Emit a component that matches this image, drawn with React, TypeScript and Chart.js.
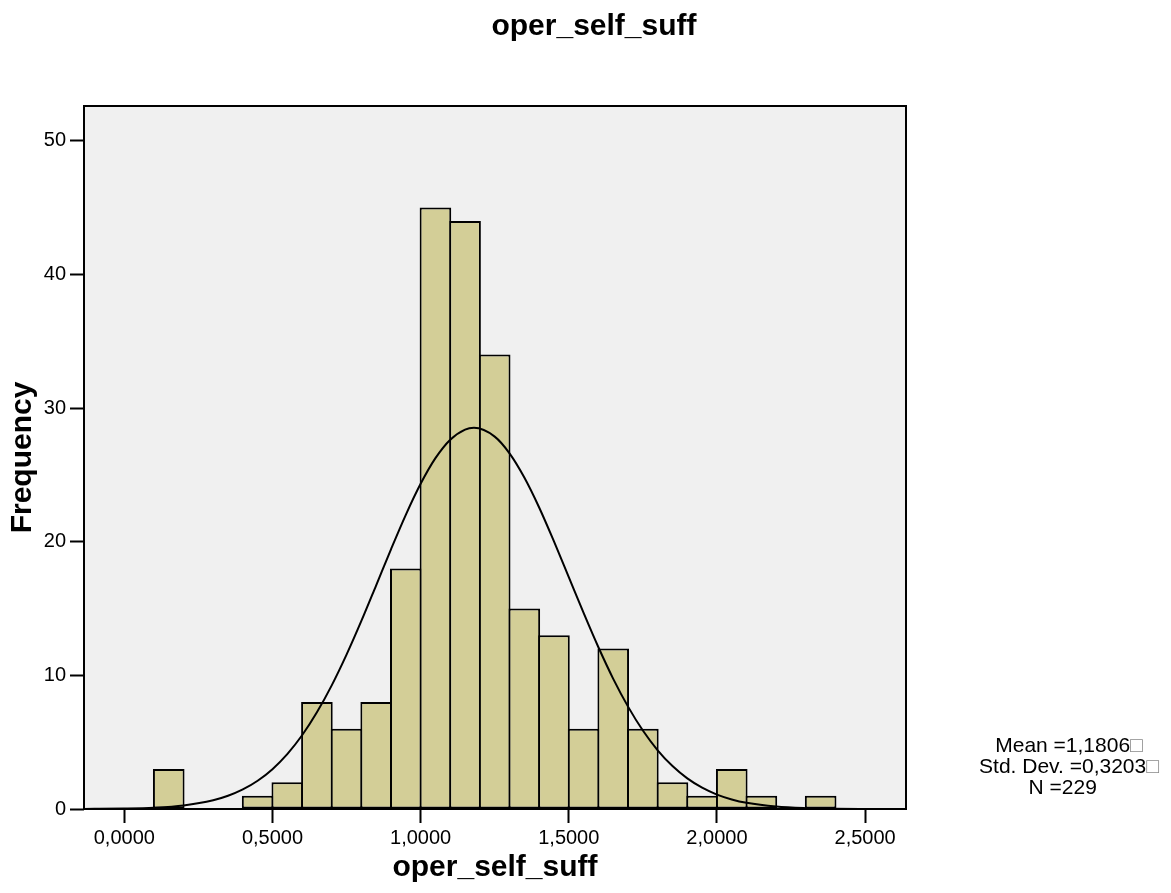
import React, { useEffect, useRef } from "react";
import { Chart, registerables } from "chart.js";

Chart.register(...registerables);

// ---- data ----
const chartTitle = "oper_self_suff";
const xAxisTitle = "oper_self_suff";
const yAxisTitle = "Frequency";

const binWidth = 0.1;
const binStarts = [0.1, 0.2, 0.3, 0.4, 0.5, 0.6, 0.7, 0.8, 0.9, 1.0, 1.1, 1.2, 1.3, 1.4, 1.5, 1.6, 1.7, 1.8, 1.9, 2.0, 2.1, 2.2, 2.3];
const binCounts = [3, 0, 0, 1, 2, 8, 6, 8, 18, 45, 44, 34, 15, 13, 6, 12, 6, 2, 1, 3, 1, 0, 1];

// normal curve
const curveX = [-0.2, -0.1, 0.0, 0.1, 0.2, 0.3, 0.35, 0.4, 0.45, 0.5, 0.55, 0.6, 0.65, 0.7, 0.75, 0.8, 0.85, 0.9, 0.95, 1.0, 1.05, 1.1, 1.15, 1.18, 1.25, 1.3, 1.35, 1.4, 1.45, 1.5, 1.55, 1.6, 1.65, 1.7, 1.75, 1.8, 1.85, 1.9, 1.95, 2.0, 2.05, 2.1, 2.2, 2.3, 2.4, 2.5, 2.6, 2.7];
const curveY = [0.003, 0.01, 0.032, 0.096, 0.263, 0.651, 0.988, 1.463, 2.115, 2.983, 4.107, 5.515, 7.233, 9.25, 11.55, 14.07, 16.74, 19.43, 22.01, 24.33, 26.25, 27.63, 28.39, 28.52, 27.86, 26.61, 24.8, 22.56, 20.02, 17.35, 14.67, 12.1, 9.74, 7.66, 5.87, 4.39, 3.21, 2.29, 1.593, 1.08, 0.717, 0.463, 0.18, 0.063, 0.02, 0.006, 0.0015, 0.0004];

const xTickValues = [0, 0.5, 1.0, 1.5, 2.0, 2.5];
const yTickValues = [0, 10, 20, 30, 40, 50];
const xMin = -0.136;
const xMax = 2.638;
const yMin = 0;
const yMax = 52.6;

const statsLines = ["Mean =1,1806", "Std. Dev. =0,3203", "N =229"];
const statsHasBox = [true, true, false];

const FONT = "'Liberation Sans', Arial, Helvetica, sans-serif";

const framePlugin = {
  id: "spssFrame",
  beforeDraw(chart: any) {
    const { ctx, chartArea: a } = chart;
    ctx.save();
    ctx.fillStyle = "#F0F0F0";
    ctx.fillRect(a.left, a.top, a.right - a.left, a.bottom - a.top);
    ctx.restore();
  },
  afterDatasetsDraw(chart: any) {
    const { ctx, chartArea: a } = chart;
    ctx.save();
    ctx.strokeStyle = "#000";
    ctx.lineWidth = 2;
    ctx.strokeRect(a.left, a.top, a.right - a.left, a.bottom - a.top);
    ctx.restore();
  },
  afterDraw(chart: any) {
    const { ctx } = chart;
    ctx.save();
    ctx.fillStyle = "#000";
    ctx.font = `bold 30px ${FONT}`;
    ctx.textAlign = "center";
    ctx.textBaseline = "alphabetic";
    ctx.fillText(chartTitle, 594, 35);

    ctx.font = `21px ${FONT}`;
    ctx.textAlign = "left";
    const boxW = ctx.measureText("\u25A1").width;
    statsLines.forEach((line, i) => {
      const w = ctx.measureText(line).width;
      const total = w + boxW;
      const start = 1069 - total / 2;
      const y = 752 + i * 21;
      ctx.fillStyle = "#000";
      ctx.fillText(line, start, y);
      if (statsHasBox[i]) {
        ctx.fillStyle = "#8a8a8a";
        ctx.fillText("\u25A1", start + w, y);
      }
    });
    ctx.restore();
  },
};

export default function App() {
  const ref = useRef<HTMLCanvasElement>(null);

  useEffect(() => {
    const canvas = ref.current;
    if (!canvas) return;
    const barData = binStarts
      .map((s, i) => ({ x: s + binWidth / 2, y: binCounts[i] }))
      .filter((d) => d.y > 0);
    const lineData = curveX.map((x, i) => ({ x, y: curveY[i] }));

    const chart = new Chart(canvas, {
      type: "bar",
      data: {
        datasets: [
          {
            type: "line",
            data: lineData,
            borderColor: "#000",
            borderWidth: 2,
            pointRadius: 0,
            fill: false,
            cubicInterpolationMode: "monotone",
            order: 1,
          } as any,
          {
            type: "bar",
            data: barData,
            backgroundColor: "#D3CE97",
            borderColor: "#000",
            borderWidth: 2,
            borderSkipped: false,
            barPercentage: 1.067,
            categoryPercentage: 1,
            grouped: false,
            order: 2,
          } as any,
        ],
      },
      options: {
        responsive: false,
        animation: false,
        devicePixelRatio: 1,
        layout: { padding: { top: 106, right: 265, left: 0, bottom: 0 } },
        plugins: {
          legend: { display: false },
          tooltip: { enabled: false },
          title: { display: false },
        },
        scales: {
          x: {
            type: "linear",
            min: xMin,
            max: xMax,
            offset: false,
            afterFit: (s: any) => {
              s.height = 84;
            },
            afterBuildTicks: (s: any) => {
              s.ticks = xTickValues.map((v) => ({ value: v }));
            },
            border: { display: false },
            grid: {
              offset: false,
              drawOnChartArea: false,
              drawTicks: true,
              tickLength: 14,
              tickWidth: 2,
              tickColor: "#000",
              color: "#000",
            },
            ticks: {
              color: "#000",
              font: { family: FONT, size: 20 },
              padding: 3,
              maxRotation: 0,
              autoSkip: false,
              callback: (v: any) => Number(v).toFixed(4).replace(".", ","),
            },
            title: {
              display: true,
              text: xAxisTitle,
              color: "#000",
              font: { family: FONT, size: 30, weight: "bold" },
              padding: { top: 0, bottom: 7 },
            },
          },
          y: {
            type: "linear",
            min: yMin,
            max: yMax,
            afterFit: (s: any) => {
              s.width = 84;
            },
            afterBuildTicks: (s: any) => {
              s.ticks = yTickValues.map((v) => ({ value: v }));
            },
            border: { display: false },
            grid: {
              drawOnChartArea: false,
              drawTicks: true,
              tickLength: 14,
              tickWidth: 2,
              tickColor: "#000",
              color: "#000",
            },
            ticks: {
              color: "#000",
              font: { family: FONT, size: 20 },
              padding: 4,
              autoSkip: false,
              callback: (v: any) => String(v),
            },
            title: {
              display: true,
              text: yAxisTitle,
              color: "#000",
              font: { family: FONT, size: 30, weight: "bold" },
              padding: { top: 5, bottom: 0 },
            },
          },
        },
      },
      plugins: [framePlugin],
    });
    return () => chart.destroy();
  }, []);

  return (
    <div style={{ position: "fixed", left: 0, top: 0, width: 1171, height: 893, background: "#fff" }}>
      <canvas ref={ref} width={1171} height={893} style={{ display: "block", width: 1171, height: 893 }} />
    </div>
  );
}
